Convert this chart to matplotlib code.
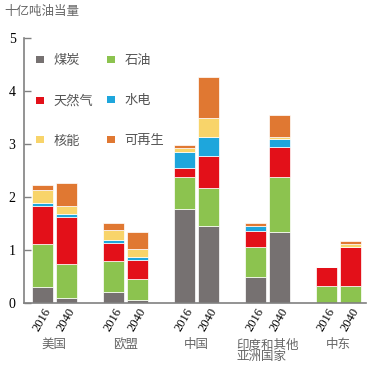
import numpy as np
import matplotlib
matplotlib.use("Agg")
import matplotlib.pyplot as plt
from matplotlib.patches import Patch

# --------------------------------------------------------------
# Data (billion tonnes of oil equivalent)
# --------------------------------------------------------------
regions = ["美国", "欧盟", "中国", "印度和其他\n亚洲国家", "中东"]
years = ["2016", "2040"]
fuels = ["煤炭", "石油", "天然气", "水电", "核能", "可再生"]
colors = ["#767171", "#8cc34f", "#e31019", "#1ea6dc", "#f8d46a", "#e07832"]

# one value per bar: region x year
coal = [0.31, 0.09, 0.21, 0.07, 1.77, 1.46, 0.49, 1.35, 0.00, 0.00]
oil = [0.80, 0.65, 0.59, 0.38, 0.61, 0.71, 0.57, 1.03, 0.33, 0.33]
gas = [0.73, 0.88, 0.33, 0.37, 0.17, 0.61, 0.31, 0.56, 0.36, 0.73]
hydro = [0.06, 0.07, 0.06, 0.06, 0.31, 0.36, 0.08, 0.15, 0.00, 0.00]
nuclear = [0.24, 0.14, 0.20, 0.14, 0.06, 0.35, 0.01, 0.05, 0.00, 0.06]
renew = [0.09, 0.43, 0.13, 0.32, 0.06, 0.77, 0.06, 0.41, 0.00, 0.06]

series = [coal, oil, gas, hydro, nuclear, renew]

# --------------------------------------------------------------
# Layout
# --------------------------------------------------------------
plt.rcParams["font.family"] = ["Liberation Serif", "Noto Sans CJK SC"]

fig = plt.figure(figsize=(3.68, 3.68), dpi=100)
ax = fig.add_axes([0.065, 0.176, 0.93, 0.72])

centers = np.arange(len(regions))
width = 0.29
offset = 0.17
xpos = np.ravel([[c - offset, c + offset] for c in centers])

bottom = np.zeros(len(xpos))
for vals, col in zip(series, colors):
    vals = np.array(vals)
    ax.bar(xpos, vals, width, bottom=bottom, color=col,
           edgecolor="white", linewidth=0.5)
    bottom += vals

ax.set_xlim(-0.43, 4.39)
ax.set_ylim(0, 5)
ax.set_yticks(range(6))

for s in ["top", "right"]:
    ax.spines[s].set_visible(False)
for s in ["left", "bottom"]:
    ax.spines[s].set_color("#808080")
    ax.spines[s].set_linewidth(1.2)

ax.tick_params(axis="y", direction="in", length=5, width=1, color="#808080",
               labelsize=10, pad=6)
ax.set_xticks(xpos)
ax.set_xticklabels(years * len(regions), rotation=60, ha="center",
                   fontsize=9)
ax.tick_params(axis="x", length=0, pad=2)

for c, name in zip(centers, regions):
    ax.text(c, -0.135, name, transform=ax.get_xaxis_transform(),
            ha="center", va="top", fontsize=9, color="#666666",
            multialignment="left", linespacing=1.0)

fig.text(0.012, 0.968, "十亿吨油当量", fontsize=9, color="#666666",
         va="center", ha="left")

# legend is filled column by column, so reorder to read row-wise
order = [0, 2, 4, 1, 3, 5]
handles = [Patch(facecolor=colors[i], edgecolor="none") for i in order]
labels = [fuels[i] for i in order]
ax.legend(handles, labels, loc="upper left", bbox_to_anchor=(0.035, 0.935),
          ncol=2, frameon=False, fontsize=9.5, labelspacing=2.1,
          handlelength=0.65, handleheight=0.45, handletextpad=0.7,
          columnspacing=1.0, borderpad=0, borderaxespad=0,
          labelcolor="#555555")

fig.savefig("out.png", dpi=100)
